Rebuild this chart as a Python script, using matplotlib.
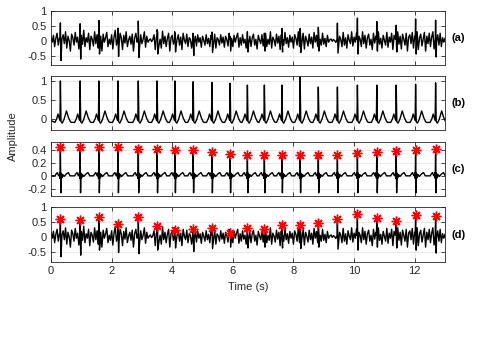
import numpy as np
import matplotlib
matplotlib.use("Agg")
import matplotlib.pyplot as plt

plt.rcParams['font.family'] = ['Liberation Sans', 'DejaVu Sans']
plt.rcParams['axes.unicode_minus'] = False

# ---- data ----
beat_times = [0.31, 0.96, 1.58, 2.21, 2.88, 3.50, 4.09, 4.69, 5.31, 5.91, 6.48,
              7.04, 7.62, 8.22, 8.82, 9.45, 10.11, 10.75, 11.39, 12.03, 12.69]

b_peaks = [0.99, 0.99, 0.99, 0.99, 0.99, 0.99, 0.99, 0.97, 0.95, 0.93, 0.88,
           0.88, 0.88, 1.10, 0.83, 0.83, 0.88, 0.88, 0.88, 0.90, 0.94]

c_peaks = [0.44, 0.44, 0.44, 0.44, 0.42, 0.42, 0.40, 0.39, 0.37, 0.34, 0.315,
           0.315, 0.315, 0.315, 0.315, 0.315, 0.345, 0.36, 0.38, 0.39, 0.41]

d_peaks = [0.60, 0.57, 0.68, 0.42, 0.66, 0.37, 0.23, 0.25, 0.29, 0.14, 0.29,
           0.25, 0.41, 0.41, 0.45, 0.59, 0.76, 0.64, 0.52, 0.73, 0.69]

d_dips = [-0.67, -0.62, -0.45, -0.53, -0.57, -0.45, -0.38, -0.50, -0.40, -0.35,
          -0.38, -0.35, -0.38, -0.40, -0.35, -0.42, -0.45, -0.35, -0.38, -0.45, -0.55]

# beat waveform shapes (offset from R peak in s, value); None = R peak
b_offsets = [-0.18, -0.12, -0.08, -0.04, -0.015, 0.0, 0.02, 0.06, 0.12, 0.20, 0.27, 0.33, 0.36]
b_shape = [-0.10, 0.00, 0.12, 0.02, -0.05, None, -0.08, -0.12, -0.02, 0.20, 0.02, -0.08, -0.10]

c_offsets = [-0.18, -0.14, -0.10, -0.07, -0.04, -0.02, -0.012, 0.0, 0.015, 0.03, 0.05, 0.08, 0.12, 0.20, 0.26, 0.32, 0.36]
c_shape = [0.0, 0.03, 0.05, 0.01, 0.0, 0.05, -0.04, None, -0.26, 0.04, -0.03, 0.02, -0.01, 0.03, 0.05, 0.0, 0.0]

noise = [
    0.12, -0.05, 0.18, -0.2, 0.08, 0.25, -0.15, 0.1, -0.3, 0.05, 0.2, -0.1, 0.3, -0.25, 0.15, 0.0, -0.35, 0.22, 0.1, -0.15, 0.28, -0.05, 0.12, -0.28, 0.05,
    0.18, -0.12, 0.35, -0.2, 0.1, -0.05, 0.25, -0.3, 0.15, 0.05, -0.18, 0.3, -0.1, 0.2, -0.25, 0.08, 0.15, -0.35, 0.22, -0.05, 0.1, 0.28, -0.2, 0.05, -0.12,
    0.2, -0.28, 0.12, 0.35, -0.15, 0.05, -0.22, 0.25, 0.1, -0.3, 0.18, -0.08, 0.3, -0.2, 0.02, 0.15, -0.12, 0.22, -0.35, 0.1, 0.25, -0.05, 0.12, -0.25, 0.2,
    -0.1, 0.05, 0.3, -0.22, 0.15, -0.05, 0.02, 0.06, -0.03, 0.04, 0.2, -0.3, 0.12, 0.28, -0.18, 0.05, -0.25, 0.32, -0.1, 0.15, -0.2, 0.08, 0.25, -0.35, 0.1,
    0.18, -0.12, 0.3, -0.25, 0.05, 0.2, -0.15, 0.12, -0.3, 0.25, 0.02, -0.1, 0.22, -0.2, 0.1, 0.05, -0.25, 0.18, -0.08, 0.15, -0.18, 0.2, -0.05, 0.1, -0.22,
    0.15, 0.02, -0.15, 0.2, -0.1, 0.08, -0.2, 0.18, 0.05, -0.12, 0.22, -0.25, 0.1, 0.03, -0.15, 0.2, -0.08, 0.12, -0.22, 0.15, 0.05, -0.18, 0.25, -0.1, 0.08,
    -0.2, 0.18, -0.05, 0.12, 0.25, -0.22, 0.1, -0.15, 0.2, -0.08, 0.05, -0.25, 0.3, -0.12, 0.15, -0.2, 0.1, 0.22, -0.15, 0.05, -0.28, 0.18, 0.02, -0.1, 0.2,
    -0.18, 0.1, 0.25, -0.2, 0.05, -0.12, 0.3, -0.25, 0.12, 0.02, -0.18, 0.22, -0.08, 0.15, -0.3, 0.2, 0.05, -0.15, 0.28, -0.1, 0.1, -0.22, 0.18, -0.05, 0.12,
    -0.25, 0.2, 0.08, -0.15, 0.3, -0.2, 0.1, -0.05, 0.25, -0.28, 0.15, 0.02, -0.18, 0.22, -0.1, 0.12, -0.25, 0.28, -0.05, 0.18, -0.2, 0.1, 0.05, -0.15, 0.25,
    -0.12, 0.08, -0.2, 0.18, -0.05, 0.03, 0.06, -0.02, 0.04, 0.0, -0.06, 0.25, -0.3, 0.15, 0.05, -0.2, 0.28, -0.15, 0.1, -0.25, 0.2, 0.02, -0.1, 0.3, -0.18,
    0.12, -0.05, 0.25, -0.28, 0.15, 0.05, -0.2, 0.3, -0.1, 0.18, -0.25, 0.1, 0.22, -0.15, 0.05, -0.3, 0.25, -0.08, 0.15, -0.2, 0.3, -0.12, 0.08, -0.25, 0.18,
    0.02, -0.15, 0.28, -0.22, 0.12, -0.05, 0.25, -0.3, 0.18, 0.05, -0.2, 0.3, -0.12, 0.15, -0.28, 0.22, 0.05, -0.15, 0.25, -0.35, 0.12, 0.2, -0.1, 0.28, -0.25,
    0.15, -0.05, 0.3, -0.3, 0.1, 0.22, -0.18, 0.05, 0.28, -0.35, 0.15, -0.1, 0.25, -0.2, 0.12, 0.3, -0.28, 0.1, -0.05, 0.2, -0.15, 0.25, -0.2, 0.1, -0.05,
    0.08,
]
noise_dt = 0.04

panel_labels = ['(a)', '(b)', '(c)', '(d)']
ylims = [(-0.82, 1.0), (-0.3, 1.12), (-0.31, 0.52), (-0.85, 1.0)]
yticks = [[-0.5, 0, 0.5, 1], [0, 0.5, 1], [-0.2, 0, 0.2, 0.4], [-0.5, 0, 0.5, 1]]
yticklabels = [['-0.5', '0', '0.5', '1'], ['0', '0.5', '1'], ['-0.2', '0', '0.2', '0.4'], ['-0.5', '0', '0.5', '1']]
xticks = [0, 2, 4, 6, 8, 10, 12]


def build_beats(times, peaks, offsets, shape, start_val):
    xs, ys = [0.0], [start_val]
    for tb, pk in zip(times, peaks):
        for off, v in zip(offsets, shape):
            xs.append(tb + off)
            ys.append(pk if v is None else v)
    return np.array(xs), np.array(ys)


def build_noisy(times, peaks, dips):
    tn = np.arange(len(noise)) * noise_dt
    vn = np.array(noise)
    st, sv = [], []
    for tb, pk, dp in zip(times, peaks, dips):
        st += [tb - 0.012, tb, tb + 0.02]
        sv += [0.05, pk, dp]
    t = np.concatenate([tn, st])
    v = np.concatenate([vn, sv])
    o = np.argsort(t, kind='stable')
    return t[o], v[o]


tb_x, tb_y = build_beats(beat_times, b_peaks, b_offsets, b_shape, -0.05)
tc_x, tc_y = build_beats(beat_times, c_peaks, c_offsets, c_shape, 0.0)
td_x, td_y = build_noisy(beat_times, d_peaks, d_dips)

fig = plt.figure(figsize=(4.8, 3.63), dpi=100)
W, H = 480, 363
left, right = 51, 445
tops = [11, 76, 142, 207]
bottoms = [65, 130, 196, 262]

axes = []
for i in range(4):
    ax = fig.add_axes([left / W, 1 - bottoms[i] / H, (right - left) / W, (bottoms[i] - tops[i]) / H])
    axes.append(ax)

series = [(td_x, td_y), (tb_x, tb_y), (tc_x, tc_y), (td_x, td_y)]
axcol = '#262626'
star = dict(linestyle='none', marker=(8, 2, 0), color='red', markersize=7, markeredgewidth=1.0)
for i, ax in enumerate(axes):
    x, y = series[i]
    ax.plot(x, y, color='black', lw=1.0)
    if i == 2:
        ax.plot(beat_times, c_peaks, **star)
    if i == 3:
        ax.plot(beat_times, d_peaks, **star)
    ax.set_xlim(0, 13)
    ax.set_ylim(*ylims[i])
    ax.set_xticks(xticks)
    ax.set_yticks(yticks[i])
    ax.set_yticklabels(yticklabels[i])
    if i < 3:
        ax.set_xticklabels([])
    else:
        ax.set_xticklabels([str(v) for v in xticks])
        ax.set_xlabel('Time (s)', fontsize=8, color=axcol, labelpad=4)
    ax.grid(True, color='#e6e6e6', lw=0.6)
    ax.set_axisbelow(True)
    ax.tick_params(direction='in', top=True, right=True, length=3, width=0.6,
                   labelsize=8, colors=axcol, pad=3)
    for s in ax.spines.values():
        s.set_color(axcol)
        s.set_linewidth(0.6)
    ax.text(1.017, 0.5, panel_labels[i], transform=ax.transAxes, fontsize=8,
            fontweight='bold', va='center', ha='left', color='black')

fig.text(0.027, 1 - 136.5 / H, 'Amplitude', rotation=90, fontsize=8, color=axcol,
         va='center', ha='center')

fig.savefig('out.png', dpi=100)
